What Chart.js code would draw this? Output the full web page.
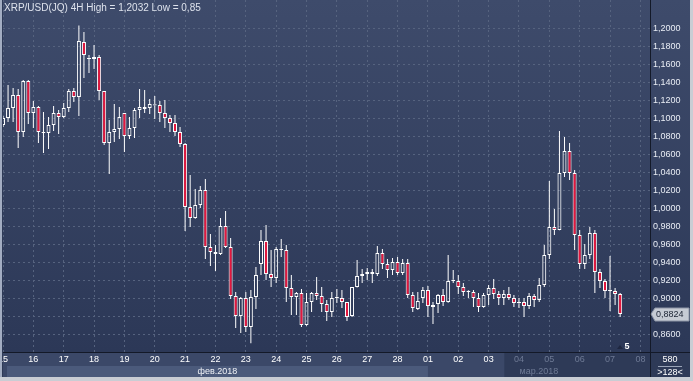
<!DOCTYPE html>
<html><head><meta charset="utf-8">
<script src="https://cdn.jsdelivr.net/npm/chart.js@4/dist/chart.umd.min.js"></script>
<style>html,body{margin:0;padding:0;background:#2e3a58;}canvas{display:block;}</style>
</head><body>
<canvas id="c" width="693" height="381" style="width:693px;height:381px"></canvas>
<script>
// ---- data (4H candles, Feb 15 00:00 .. Mar 7 08:00, 2018) ----
const symbolTitle = 'XRP/USD(JQ) 4H';
const opens = [1.0927,1.1004,1.1116,1.1260,1.0849,1.1416,1.1060,1.1127,1.0849,1.0838,1.0927,1.1060,1.1016,1.1116,1.1305,1.1238,1.1850,1.1675,1.1661,1.1683,1.1305,1.0726,1.0849,1.0882,1.1060,1.0804,1.0893,1.1093,1.1105,1.1116,1.1143,1.1149,1.1060,1.1004,1.0949,1.0849,1.0715,1.0015,0.9892,1.0037,1.0204,0.9570,0.9514,0.9492,0.9803,0.9570,0.9025,0.8802,0.9002,0.8680,0.9013,0.9381,0.9636,0.9269,0.9225,0.9536,0.9536,0.9114,0.9013,0.9058,0.8702,0.8958,0.9058,0.9025,0.8936,0.8847,0.9002,0.9002,0.8958,0.8802,0.9125,0.9247,0.9269,0.9292,0.9269,0.9503,0.9381,0.9314,0.9403,0.9280,0.9392,0.9036,0.8880,0.9002,0.9091,0.8902,0.8936,0.9036,0.8958,0.9191,0.9191,0.9125,0.9069,0.9069,0.9002,0.8902,0.9036,0.9114,0.9047,0.9002,0.9047,0.9002,0.8958,0.8958,0.8913,0.9025,0.8980,0.9147,0.9481,0.9792,0.9759,1.0393,1.0637,1.0393,0.9703,0.9381,0.9481,0.9725,0.9292,0.9191,0.9080,0.9080,0.9047];
const highs = [1.1027,1.1371,1.1338,1.1327,1.1427,1.1427,1.1194,1.1138,1.1071,1.1016,1.1138,1.1093,1.1171,1.1327,1.1338,1.2032,1.1961,1.1705,1.1816,1.1705,1.1305,1.0982,1.1160,1.1127,1.1060,1.1016,1.1116,1.1327,1.1316,1.1216,1.1249,1.1194,1.1205,1.1038,1.1038,1.0904,1.0726,1.0371,1.0215,1.0248,1.0326,0.9714,0.9592,0.9892,0.9970,0.9670,0.9069,0.9013,0.9069,0.9091,0.9347,0.9759,0.9814,0.9536,0.9570,0.9659,0.9592,0.9258,0.9069,0.9102,0.9058,0.9069,0.9236,0.9125,0.8980,0.9069,0.9102,0.9091,0.8958,0.9125,0.9425,0.9325,0.9336,0.9325,0.9581,0.9547,0.9436,0.9447,0.9458,0.9436,0.9436,0.9069,0.9069,0.9125,0.9136,0.8958,0.9047,0.9102,0.9481,0.9314,0.9258,0.9169,0.9091,0.9091,0.9058,0.9058,0.9147,0.9214,0.9080,0.9091,0.9125,0.9036,0.9002,0.9002,0.9058,0.9047,0.9225,0.9592,1.0304,0.9992,1.0860,1.0793,1.0726,1.0426,0.9759,0.9603,0.9792,0.9759,0.9325,0.9214,0.9470,0.9114,0.9058];
const lows = [1.0904,1.0960,1.0960,1.0671,1.0793,1.0938,1.0893,1.0726,1.0615,1.0660,1.0860,1.0826,1.1004,1.1071,1.1182,1.1027,1.1449,1.1505,1.1549,1.1205,1.0704,1.0382,1.0738,1.0771,1.0626,1.0771,1.0782,1.1004,1.1060,1.1049,1.0993,1.0960,1.0893,1.0849,1.0804,1.0682,0.9748,0.9792,0.9885,1.0003,0.9436,0.9358,0.9303,0.9481,0.9559,0.8991,0.8669,0.8613,0.8624,0.8500,0.8880,0.9258,0.9203,0.9125,0.9169,0.9458,0.8958,0.8813,0.8813,0.8680,0.8695,0.8847,0.8980,0.8847,0.8746,0.8791,0.8947,0.8891,0.8746,0.8791,0.9120,0.9169,0.9203,0.9169,0.9247,0.9325,0.9225,0.9258,0.9258,0.9258,0.9002,0.8847,0.8869,0.8947,0.8791,0.8713,0.8835,0.8913,0.8950,0.9169,0.9047,0.9025,0.9002,0.8902,0.8847,0.8895,0.8924,0.8991,0.8924,0.8924,0.8980,0.8902,0.8891,0.8791,0.8880,0.8902,0.8958,0.9125,0.9436,0.9703,0.9755,1.0348,1.0315,0.9536,0.9325,0.9325,0.9436,0.9058,0.9114,0.9002,0.8858,0.8924,0.8791];
const closes = [1.1004,1.1116,1.1260,1.0849,1.1416,1.1060,1.1127,1.0849,1.0838,1.0927,1.1060,1.1016,1.1116,1.1305,1.1238,1.1861,1.1705,1.1661,1.1683,1.1305,1.0726,1.0849,1.0882,1.1016,1.0804,1.0893,1.1093,1.1127,1.1127,1.1160,1.1158,1.1060,1.1004,1.0949,1.0849,1.0715,1.0015,0.9892,1.0037,1.0204,0.9570,0.9514,0.9492,0.9803,0.9570,0.9025,0.8802,0.9002,0.8680,0.9013,0.9258,0.9636,0.9269,0.9225,0.9547,0.9550,0.9114,0.9013,0.9058,0.8702,0.8958,0.9058,0.9025,0.8936,0.8847,0.9002,0.9016,0.8958,0.8791,0.9125,0.9247,0.9269,0.9292,0.9269,0.9503,0.9381,0.9314,0.9403,0.9280,0.9392,0.9036,0.8891,0.8969,0.9091,0.8913,0.8924,0.9036,0.8958,0.9191,0.9205,0.9125,0.9069,0.9083,0.9002,0.8902,0.9036,0.9114,0.9047,0.9002,0.9047,0.9002,0.8947,0.8945,0.8913,0.9025,0.8980,0.9147,0.9481,0.9792,0.9759,1.0393,1.0637,1.0393,0.9703,0.9381,0.9481,0.9725,0.9292,0.9191,0.9080,0.9094,0.9047,0.8824];
// day labels: one per 6 candles (00:00 of each day)
const dayLabels = ['15','16','17','18','19','20','21','22','23','24','25','26','27','28','01','02','03','04','05','06','07','08'];
const monthLabels = ['фев.2018','мар.2018'];
const monthStartDay = [0, 14];
const priceTicks = [0.86,0.88,0.90,0.92,0.94,0.96,0.98,1.00,1.02,1.04,1.06,1.08,1.10,1.12,1.14,1.16,1.18,1.20];
const candlesPerDay = 6;
const futureFrom = 99.1;     // start of greyed region on the time axis (candle units)
const barsInfo = ['580', '>128<'];
const markerText = '5';

// ---- helpers ----
const FONT = '"Liberation Sans", Arial, sans-serif';
const fmt = v => String(v).replace('.', ',');
const fmt4 = v => v.toFixed(4).replace('.', ',');
const RED = '#e3173e';

const bodies = opens.map((o, i) => ({x: i, y: [o, closes[i]]}));
const upperW = opens.map((o, i) => ({x: i, y: [Math.max(o, closes[i]), highs[i]]}));
const lowerW = opens.map((o, i) => ({x: i, y: [lows[i], Math.min(o, closes[i])]}));
const dayTicks = dayLabels.map((_, d) => d * candlesPerDay);

const deco = {
  id: 'deco',
  beforeDraw(chart) {
    const {ctx, chartArea: a, scales: {x}} = chart;
    const W = chart.width, H = chart.height;
    ctx.save();
    ctx.fillStyle = '#2e3a57'; ctx.fillRect(0, 0, W, H);
    const g = ctx.createLinearGradient(0, a.top, 0, a.bottom);
    g.addColorStop(0, '#3e4b6b'); g.addColorStop(1, '#2c3857');
    ctx.fillStyle = g; ctx.fillRect(a.left, a.top, W - a.left, a.bottom - a.top);
    // time axis bands
    ctx.fillStyle = '#3b4868'; ctx.fillRect(a.left, a.bottom, a.right - a.left, 25);
    const mar = x.getPixelForValue(monthStartDay[1] * candlesPerDay);
    ctx.fillStyle = '#4b5a7b'; ctx.fillRect(a.left + 4, a.bottom + 14, mar - a.left - 4, 11);
    const fut = x.getPixelForValue(futureFrom);
    ctx.fillStyle = '#2e3a57'; ctx.fillRect(fut, a.bottom, a.right - fut, 25);
    ctx.fillStyle = '#2e3a57'; ctx.fillRect(a.right, a.bottom, W - a.right, 25);
    ctx.restore();
  },
  afterDraw(chart) {
    const {ctx, chartArea: a, scales: {x, y}} = chart;
    const W = chart.width, H = chart.height;
    ctx.save();
    // axis separators
    ctx.fillStyle = '#131928';
    ctx.fillRect(a.left, a.bottom, W - a.left, 1);
    ctx.fillRect(a.right, 0, 1, a.bottom + 25);
    // day labels
    ctx.font = '9px ' + FONT; ctx.textAlign = 'center'; ctx.textBaseline = 'middle';
    dayLabels.forEach((t, d) => {
      const v = d * candlesPerDay;
      ctx.fillStyle = v >= futureFrom ? '#6e7a95' : '#ffffff';
      ctx.fillText(t, x.getPixelForValue(v), a.bottom + 8);
    });
    // month labels
    const mar = x.getPixelForValue(monthStartDay[1] * candlesPerDay);
    ctx.fillStyle = '#eef1f6';
    ctx.fillText(monthLabels[0], (a.left + 4 + mar) / 2, a.bottom + 20);
    ctx.fillStyle = '#6e7a95';
    ctx.fillText(monthLabels[1], (mar + a.right) / 2, a.bottom + 20);
    // title
    const hi = Math.max(...highs), lo = Math.min(...lows);
    ctx.textAlign = 'left'; ctx.fillStyle = '#dde2ec'; ctx.font = '10px ' + FONT;
    ctx.fillText(symbolTitle + ' High = ' + fmt(hi) + ' Low = ' + fmt(lo), 4, 8);
    // last price label
    const last = closes[closes.length - 1];
    const py = Math.round(y.getPixelForValue(last));
    ctx.beginPath();
    ctx.moveTo(a.right + 1, py);
    ctx.lineTo(a.right + 5, py - 6);
    ctx.lineTo(a.right + 39, py - 6);
    ctx.lineTo(a.right + 39, py + 7);
    ctx.lineTo(a.right + 5, py + 7);
    ctx.closePath();
    ctx.fillStyle = '#c6cbd4'; ctx.fill();
    ctx.strokeStyle = '#8d95a6'; ctx.lineWidth = 1; ctx.stroke();
    ctx.fillStyle = '#1b2333'; ctx.font = '9px ' + FONT;
    ctx.fillText(fmt4(last), a.right + 6, py + 0.5);
    // bars info box
    ctx.textAlign = 'center'; ctx.fillStyle = '#ffffff';
    const cx = (a.right + W - 3) / 2;
    ctx.fillText(barsInfo[0], cx, a.bottom + 8);
    ctx.fillText(barsInfo[1], cx, a.bottom + 21);
    ctx.fillStyle = '#9aa4b8'; ctx.fillRect(cx - 12, a.bottom + 14, 24, 1);
    // marker
    ctx.fillStyle = '#ffffff'; ctx.font = 'bold 9px ' + FONT;
    ctx.fillText(markerText, a.right - 23, a.bottom - 5);
    ctx.fillStyle = '#1f2740';
    ctx.beginPath();
    ctx.moveTo(a.right - 33, a.bottom - 3); ctx.lineTo(a.right - 30, a.bottom - 7); ctx.lineTo(a.right - 27, a.bottom - 3);
    ctx.closePath(); ctx.fill();
    // outer frame
    ctx.fillStyle = '#a3adc2'; ctx.fillRect(0, 0, 2, H);
    ctx.fillStyle = '#c9cdd4'; ctx.fillRect(W - 3, 0, 3, H); ctx.fillRect(0, H - 4, W, 4);
    ctx.restore();
  }
};

Chart.defaults.font.family = FONT;
new Chart(document.getElementById('c'), {
  type: 'bar',
  data: {
    datasets: [
      {label: 'body', data: bodies, barThickness: 4, borderWidth: 1, borderColor: '#ffffff',
       borderSkipped: false, inflateAmount: 0, grouped: false,
       backgroundColor: c => closes[c.dataIndex] >= opens[c.dataIndex] ? 'rgba(0,0,0,0)' : RED},
      {label: 'upper', data: upperW, barThickness: 1, borderWidth: 0, backgroundColor: '#ffffff',
       borderSkipped: false, inflateAmount: 0, grouped: false},
      {label: 'lower', data: lowerW, barThickness: 1, borderWidth: 0, backgroundColor: '#ffffff',
       borderSkipped: false, inflateAmount: 0, grouped: false}
    ]
  },
  options: {
    responsive: false, animation: false, devicePixelRatio: 1,
    layout: {padding: {left: 3, top: 0, right: 3, bottom: 4}},
    plugins: {legend: {display: false}, tooltip: {enabled: false}, title: {display: false}},
    scales: {
      x: {
        type: 'linear', min: 0, max: 127.9, offset: false,
        grid: {color: '#56637f', drawTicks: false, offset: false, lineWidth: 1},
        border: {display: false, dash: [2, 3]},
        ticks: {display: false},
        afterBuildTicks: s => { s.ticks = dayTicks.map(v => ({value: v})); },
        afterFit: s => { s.height = 25; s.paddingLeft = 0; s.paddingRight = 0; }
      },
      y: {
        position: 'right', min: 0.8402, max: 1.2317,
        grid: {color: '#56637f', drawTicks: false, lineWidth: 1},
        border: {display: false, dash: [2, 3]},
        ticks: {color: '#e9edf5', font: {size: 9}, padding: 3, callback: v => fmt4(v)},
        afterBuildTicks: s => { s.ticks = priceTicks.map(v => ({value: v})); },
        afterFit: s => { s.width = 40; s.paddingTop = 0; s.paddingBottom = 0; }
      }
    }
  },
  plugins: [deco]
});
</script>
</body></html>
